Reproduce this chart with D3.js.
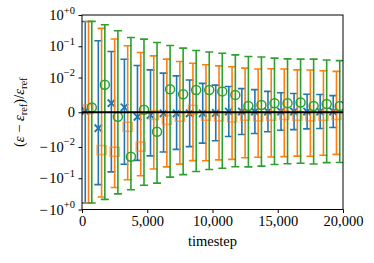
<!DOCTYPE html>
<html>
<head>
<meta charset="utf-8">
<script src="https://cdn.jsdelivr.net/npm/d3@7"></script>
<style>
  html, body { margin: 0; padding: 0; background: #fff; }
  svg { display: block; }
  text { font-family: "Liberation Serif", "Times New Roman", serif; }
</style>
</head>
<body>
<svg id="chart" width="374" height="263"></svg>
<script>
// group centres (timestep); each series is shifted a bit left/right
const timesteps = [500, 1500, 2500, 3500, 4500, 5500, 6500, 7500, 8500, 9500,
    10500, 11500, 12500, 13500, 14500, 15500, 16500, 17500, 18500, 19500];
const seriesShift = [-250, 0, 250];

// relative error means and std (error bar half width) per series
const blueMean = [0.0003, -0.0046, 0.0026, 0.0014, -0.0013, -0.0008, -0.0003, -0.0003, -0.0003, -0.0003,
    -0.0002, 0.0002, 0.0002, 0.0002, 0.0002, 0.0002, 0.0002, 0.0002, 0.0002, 0.0002];
const blueErr = [0.62, 0.155, 0.065, 0.037, 0.0255, 0.0184, 0.0141, 0.0116, 0.0096, 0.0086,
    0.0080, 0.0072, 0.0066, 0.0063, 0.0058, 0.0054, 0.0052, 0.0050, 0.0049, 0.0046];

const orangeMean = [0.0009, -0.0125, -0.0142, -0.0042, -0.0099, -0.0008, -0.0022, -0.0013, 0.0007, -0.0010,
    -0.0012, -0.0015, -0.0010, -0.0012, -0.0010, -0.0008, -0.0010, -0.0012, -0.0010, -0.0008];
const orangeErr = [0.622, 0.385, 0.184, 0.108, 0.073, 0.050, 0.041, 0.034, 0.028, 0.0265,
    0.0247, 0.0235, 0.021, 0.020, 0.020, 0.0195, 0.0186, 0.0186, 0.0174, 0.0165];

const greenMean = [0.0014, 0.0079, -0.0013, -0.0206, 0.0007, -0.0056, 0.0066, 0.0052, 0.0064, 0.0064,
    0.0060, 0.0050, 0.0018, 0.0021, 0.0026, 0.0026, 0.0028, 0.0018, 0.0024, 0.0018];
const greenErr = [0.622, 0.481, 0.314, 0.212, 0.169, 0.138, 0.099, 0.082, 0.067, 0.059,
    0.054, 0.048, 0.045, 0.043, 0.039, 0.037, 0.036, 0.037, 0.034, 0.033];

const xTicks = [0, 5000, 10000, 15000, 20000];
const yTicks = [1, 0.1, 0.01, 0, -0.01, -0.1, -1];
// [sign, base, exponent]
const yTickLabels = [["", "10", "+0"], ["", "10", "\u22121"], ["", "10", "\u22122"], ["", "0", ""],
    ["\u2212", "10", "\u22122"], ["\u2212", "10", "\u22121"], ["\u2212", "10", "+0"]];

const series = [
    {mean: blueMean, err: blueErr, color: "#1f77b4", marker: "x"},
    {mean: orangeMean, err: orangeErr, color: "#ff7f0e", marker: "s"},
    {mean: greenMean, err: greenErr, color: "#2ca02c", marker: "o"}
];

// matplotlib style symlog (linthresh 1e-2, linscale 1)
const linthresh = 0.01, linscale = 1 / (1 - 1 / 10);
const symlog = (v) => {
    const a = Math.abs(v);
    if (a <= linthresh) return v / linthresh * linscale;
    return Math.sign(v) * (linscale + Math.log10(a / linthresh));
};

const margin = {left: 82, right: 31, top: 15, bottom: 53.5};
const width = 374 - margin.left - margin.right;
const height = 263 - margin.top - margin.bottom;

const svg = d3.select("#chart");
const g = svg.append("g").attr("transform", `translate(${margin.left},${margin.top})`);

const x = d3.scaleLinear().domain([0, 20000]).range([0, width]);
const yLin = d3.scaleLinear().domain([symlog(-1), symlog(1)]).range([height, 0]);
const y = (v) => yLin(symlog(v));

const plot = g.append("g");
plot.append("clipPath").attr("id", "clip")
    .append("rect").attr("width", width).attr("height", height);
const inner = plot.append("g").attr("clip-path", "url(#clip)");

const capHalf = 4;
series.forEach((s, si) => {
    const sg = inner.append("g");
    const pts = timesteps.map((t, i) => ({
        x: x(t + seriesShift[si]),
        lo: y(s.mean[i] - s.err[i]),
        hi: y(s.mean[i] + s.err[i]),
        m: y(s.mean[i])
    }));

    sg.selectAll("line.bar").data(pts).join("line")
        .attr("x1", d => d.x).attr("x2", d => d.x)
        .attr("y1", d => d.lo).attr("y2", d => d.hi)
        .attr("stroke", s.color).attr("stroke-width", 1.6);

    ["lo", "hi"].forEach((k) => {
        sg.selectAll(`line.cap-${k}`).data(pts).join("line")
            .attr("x1", d => d.x - capHalf).attr("x2", d => d.x + capHalf)
            .attr("y1", d => d[k]).attr("y2", d => d[k])
            .attr("stroke", s.color).attr("stroke-width", 1.6);
    });

    const mk = sg.selectAll("g.mark").data(pts).join("g")
        .attr("transform", d => `translate(${d.x},${d.m})`);
    if (s.marker === "x") {
        mk.append("path").attr("d", "M-3.7,-3.7L3.7,3.7M-3.7,3.7L3.7,-3.7")
            .attr("stroke", s.color).attr("stroke-width", 1.9).attr("fill", "none");
    } else if (s.marker === "s") {
        mk.append("rect").attr("x", -4.5).attr("y", -4.5).attr("width", 9).attr("height", 9)
            .attr("stroke", s.color).attr("stroke-width", 1.5).attr("fill", "none")
            .attr("opacity", 0.65);
    } else {
        mk.append("circle").attr("r", 4.5)
            .attr("stroke", s.color).attr("stroke-width", 1.5).attr("fill", "none");
    }
});

// zero line
inner.append("line")
    .attr("x1", 0).attr("x2", width)
    .attr("y1", y(0)).attr("y2", y(0))
    .attr("stroke", "#000").attr("stroke-width", 2.2);

// frame
g.append("rect").attr("width", width).attr("height", height)
    .attr("fill", "none").attr("stroke", "#000").attr("stroke-width", 1);

// x axis
const xAxis = g.append("g").attr("transform", `translate(0,${height})`)
    .call(d3.axisBottom(x).tickValues(xTicks).tickFormat(d3.format(",")).tickSize(3.5).tickPadding(3));
xAxis.select(".domain").remove();
xAxis.selectAll("text").attr("font-size", 14.5).attr("font-family", "Liberation Serif").attr("fill", "#000");

// y axis
const yAxis = g.append("g")
    .call(d3.axisLeft(yLin).tickValues(yTicks.map(symlog)).tickFormat("").tickSize(3.5));
yAxis.select(".domain").remove();
yAxis.selectAll(".tick text").remove();

yTicks.forEach((v, i) => {
    const [sign, base, sup] = yTickLabels[i];
    const t = g.append("text")
        .attr("x", -7).attr("y", y(v) + 5)
        .attr("text-anchor", "end")
        .attr("font-size", 14.5);
    if (sign) t.append("tspan").attr("font-size", 15).text(sign);
    t.append("tspan").attr("dx", sign ? 1.5 : 0).text(base);
    if (sup) {
        t.append("tspan").attr("dy", -6.5).attr("font-size", 10.5).text(sup);
    }
});

// axis labels
g.append("text")
    .attr("x", width / 2).attr("y", height + 36)
    .attr("text-anchor", "middle").attr("font-size", 14.5)
    .text("timestep");

const yl = g.append("text")
    .attr("transform", `translate(-58,${height / 2}) rotate(-90)`)
    .attr("text-anchor", "middle").attr("font-size", 14.5);
yl.append("tspan").text("(");
yl.append("tspan").attr("font-style", "italic").text("\u03b5");
yl.append("tspan").text(" \u2212 ");
yl.append("tspan").attr("font-style", "italic").text("\u03b5");
yl.append("tspan").attr("font-size", 10.5).attr("dy", 3).text("ref");
yl.append("tspan").attr("dy", -3).text(")/");
yl.append("tspan").attr("font-style", "italic").text("\u03b5");
yl.append("tspan").attr("font-size", 10.5).attr("dy", 3).text("ref");
</script>
</body>
</html>
